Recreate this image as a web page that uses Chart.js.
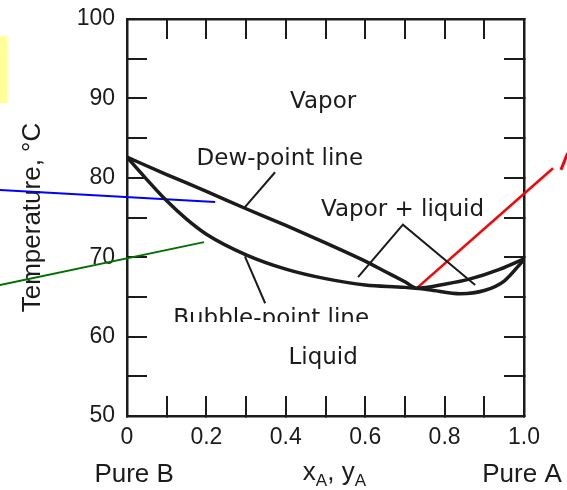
<!DOCTYPE html>
<html>
<head>
<meta charset="utf-8">
<script src="https://cdn.jsdelivr.net/npm/chart.js@4/dist/chart.umd.min.js"></script>
<style>
  html, body { margin: 0; padding: 0; background: #fff; }
  canvas { display: block; }
</style>
</head>
<body>
<canvas id="phaseChart" width="567" height="490"></canvas>
<script>
// Tick labels
const xTickValues = [0, 0.2, 0.4, 0.6, 0.8, 1.0];
const xTickLabels = ['0', '0.2', '0.4', '0.6', '0.8', '1.0'];
const yTickValues = [50, 60, 70, 80, 90, 100];
const yTickLabels = ['50', '60', '70', '80', '90', '100'];

// Dew-point curve (mole fraction A, temperature °C)
const dewX = [0, 0.1, 0.2, 0.3, 0.4, 0.5, 0.6, 0.65, 0.7, 0.73, 0.8, 0.86, 0.94, 1.0];
const dewT = [82.6, 80.4, 78.3, 76.1, 74.0, 71.8, 69.5, 68.2, 66.9, 66.1, 66.6, 67.2, 68.5, 69.8];

// Bubble-point curve
const bubbleX = [0, 0.03, 0.1, 0.15, 0.2, 0.3, 0.4, 0.5, 0.6, 0.7, 0.76, 0.84, 0.9, 0.95, 1.0];
const bubbleT = [82.6, 80.9, 77.1, 74.8, 72.9, 70.3, 68.5, 67.3, 66.5, 66.2, 65.9, 65.4, 65.8, 67.0, 69.7];

// Leader lines for the labels
const dewLeaderX = [0.373, 0.297];
const dewLeaderT = [80.7, 76.3];
const twoPhaseLeaderX = [0.582, 0.695, 0.877];
const twoPhaseLeaderT = [67.5, 74.1, 66.5];
const bubbleLeaderX = [0.297, 0.348];
const bubbleLeaderT = [70.1, 64.2];

// Coloured pointer lines
const blueX = [-0.32, 0.222];
const blueT = [78.45, 76.95];
const greenX = [-0.32, 0.194];
const greenT = [66.5, 71.9];
const redX = [0.73, 1.073];
const redT = [66.1, 81.2];
const redMarkX = [1.093, 1.11];
const redMarkT = [81.0, 83.1];

const INK = '#1b1b1b';
const toPoints = (xs, ys) => xs.map((x, i) => ({ x, y: ys[i] }));

function lineSet(xs, ys, color, width, extra) {
  return Object.assign({
    data: toPoints(xs, ys),
    borderColor: color,
    borderWidth: width,
    pointRadius: 0,
    showLine: true,
    fill: false,
    tension: 0
  }, extra || {});
}

function labelFor(values, labels) {
  return (value) => {
    const i = values.findIndex((v) => Math.abs(v - value) < 1e-6);
    return i >= 0 ? labels[i] : '';
  };
}

// the big tick padding would otherwise push the plot area down
function noEdgePadding(scale) {
  scale.paddingTop = 0;
  scale.paddingBottom = 0;
  scale.paddingLeft = 0;
  scale.paddingRight = 0;
}

// Region names, curve names and the axis captions under the frame
const textPlugin = {
  id: 'phaseText',
  afterDatasetsDraw(chart) {
    const { ctx, scales: { x, y } } = chart;
    const px = (v) => x.getPixelForValue(v);
    const py = (v) => y.getPixelForValue(v);

    ctx.save();
    // yellow highlight strip at the left edge
    ctx.fillStyle = '#ffff99';
    ctx.fillRect(px(-0.32), py(97.85), px(-0.302) - px(-0.32), py(89.4) - py(97.85));

    ctx.fillStyle = INK;
    ctx.textBaseline = 'alphabetic';
    ctx.textAlign = 'center';
    ctx.font = '23px "DejaVu Sans"';
    ctx.fillText('Vapor', px(0.494), py(88.8));
    ctx.fillText('Dew-point line', px(0.385), py(81.6));
    ctx.fillText('Vapor + liquid', px(0.694), py(75.2));
    ctx.fillText('Liquid', px(0.494), py(56.55));

    // bubble-point caption is cut along its lower edge
    ctx.save();
    ctx.beginPath();
    ctx.rect(0, 0, chart.width, py(61.85));
    ctx.clip();
    ctx.fillText('Bubble-point line', px(0.363), py(61.5));
    ctx.restore();

    ctx.font = '26px "Liberation Sans"';
    ctx.fillText('Pure B', px(0.018), py(41.7));
    ctx.fillText('Pure A', px(0.995), py(41.7));

    // x_A, y_A with subscripts
    ctx.textAlign = 'left';
    let cx = px(0.443);
    const base = py(41.9);
    const parts = [['x', false], ['A', true], [', y', false], ['A', true]];
    parts.forEach(([t, sub]) => {
      ctx.font = sub ? '17px "Liberation Sans"' : '26px "Liberation Sans"';
      ctx.fillText(t, cx, base + (sub ? 6 : 0));
      cx += ctx.measureText(t).width;
    });
    ctx.restore();
  }
};

const frameGrid = {
  display: true,
  drawOnChartArea: false,
  drawTicks: true,
  tickLength: -20,
  lineWidth: 2,
  color: INK
};
const frameBorder = { display: true, width: 2.5, color: INK };

new Chart(document.getElementById('phaseChart'), {
  type: 'scatter',
  data: {
    datasets: [
      lineSet(dewX, dewT, INK, 3.5, { cubicInterpolationMode: 'monotone' }),
      lineSet(bubbleX, bubbleT, INK, 3.5, { cubicInterpolationMode: 'monotone' }),
      lineSet(dewLeaderX, dewLeaderT, INK, 2),
      lineSet(twoPhaseLeaderX, twoPhaseLeaderT, INK, 2),
      lineSet(bubbleLeaderX, bubbleLeaderT, INK, 2),
      lineSet(blueX, blueT, '#0000ff', 2, { clip: false }),
      lineSet(greenX, greenT, '#007000', 2, { clip: false }),
      lineSet(redX, redT, '#ff0000', 2.5, { clip: false }),
      lineSet(redMarkX, redMarkT, '#ff0000', 3, { clip: false })
    ]
  },
  options: {
    responsive: false,
    animation: false,
    layout: { padding: { left: 0, top: 19, right: 43, bottom: 0 } },
    plugins: {
      legend: { display: false },
      tooltip: { enabled: false }
    },
    scales: {
      x: {
        type: 'linear',
        position: 'bottom',
        min: 0,
        max: 1,
        afterFit: (scale) => { scale.height = 74; noEdgePadding(scale); },
        grid: frameGrid,
        border: frameBorder,
        ticks: {
          stepSize: 0.1,
          autoSkip: false,
          maxRotation: 0,
          padding: 28,
          color: INK,
          font: { family: 'Liberation Sans', size: 23 },
          callback: labelFor(xTickValues, xTickLabels)
        }
      },
      x2: {
        type: 'linear',
        position: 'top',
        min: 0,
        max: 1,
        afterFit: (scale) => { scale.height = 0; noEdgePadding(scale); },
        grid: frameGrid,
        border: frameBorder,
        ticks: { stepSize: 0.1, display: false }
      },
      y: {
        type: 'linear',
        position: 'left',
        min: 50,
        max: 100,
        afterFit: (scale) => { scale.width = 127; noEdgePadding(scale); },
        grid: frameGrid,
        border: frameBorder,
        title: {
          display: true,
          text: 'Temperature, °C',
          color: INK,
          font: { family: 'Liberation Sans', size: 26 },
          padding: { top: 17, bottom: 0 }
        },
        ticks: {
          stepSize: 5,
          autoSkip: false,
          padding: 32,
          color: INK,
          font: { family: 'Liberation Sans', size: 23 },
          callback: labelFor(yTickValues, yTickLabels)
        }
      },
      y2: {
        type: 'linear',
        position: 'right',
        min: 50,
        max: 100,
        afterFit: (scale) => { scale.width = 0; noEdgePadding(scale); },
        grid: frameGrid,
        border: frameBorder,
        ticks: { stepSize: 5, display: false }
      }
    }
  },
  plugins: [textPlugin]
});
</script>
</body>
</html>
